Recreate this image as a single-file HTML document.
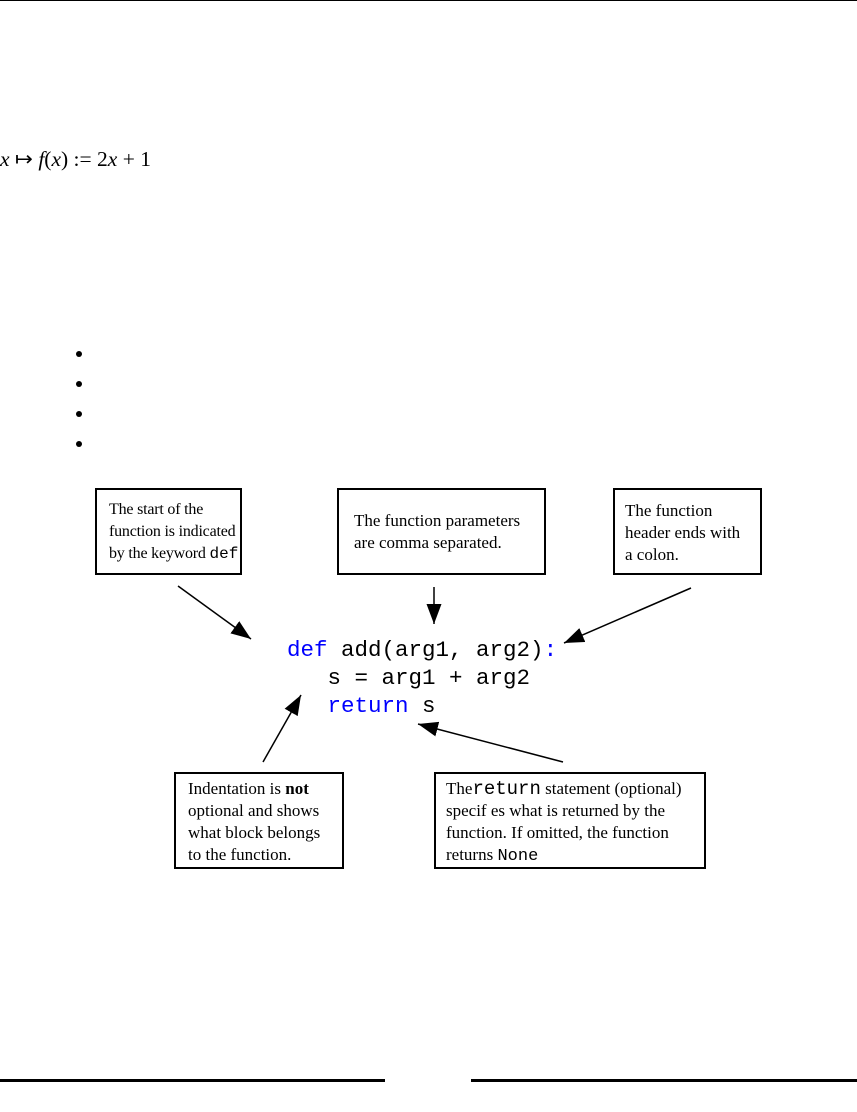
<!DOCTYPE html>
<html><head><style>
body{margin:0;width:857px;height:1112px;background:#fff;position:relative;overflow:hidden;font-family:"Liberation Serif",serif;}
.a{position:absolute;}
.box{position:absolute;border:2px solid #000;box-sizing:border-box;font-size:17px;line-height:22px;padding:8px 12px;white-space:nowrap;}
.m{font-family:"Liberation Mono",monospace;}
.code{position:absolute;font-family:"Liberation Mono",monospace;font-size:22.5px;line-height:28px;white-space:pre;}
.b{color:#00f;}
</style></head><body>
<div class="a" style="left:0;top:0;width:857px;height:1px;background:#000"></div>
<div class="a" style="left:0;top:147px;font-size:21.5px;font-style:italic;white-space:pre">x <span style="font-style:normal">↦</span> f<span style="font-style:normal">(</span>x<span style="font-style:normal">) := 2</span>x<span style="font-style:normal"> + 1</span></div>
<svg class="a" style="left:0;top:0" width="857" height="1112">
<g fill="#000"><circle cx="79" cy="354" r="3"/><circle cx="79" cy="384" r="3"/><circle cx="79" cy="414" r="3"/><circle cx="79" cy="444" r="3"/></g>
<defs>
<marker id="ar2" viewBox="0 0 10 10" refX="10" refY="5" markerWidth="20" markerHeight="15" markerUnits="userSpaceOnUse" orient="auto" preserveAspectRatio="none"><path d="M0,0L10,5L0,10z"/></marker></defs>
<g stroke="#000" stroke-width="1.5" marker-end="url(#ar2)">
<line x1="178" y1="586" x2="251" y2="639"/>
<line x1="434" y1="587" x2="434" y2="624"/>
<line x1="691" y1="588" x2="564" y2="643"/>
<line x1="263" y1="762" x2="301" y2="695"/>
<line x1="563" y1="762" x2="418" y2="724"/>
</g>
<rect x="0" y="1079" width="385" height="3"/>
<rect x="471" y="1079" width="386" height="3"/>
</svg>
<div class="box" style="left:95px;top:488px;width:147px;height:87px;padding-top:9px;font-size:16px;letter-spacing:-0.2px">The start of the<br>function is indicated<br>by the keyword <span class="m" style="letter-spacing:0">def</span></div>
<div class="box" style="left:337px;top:488px;width:209px;height:87px;padding-top:20px;padding-left:15px">The function parameters<br>are comma separated.</div>
<div class="box" style="left:613px;top:488px;width:149px;height:87px;padding-top:10px;padding-left:10px">The function<br>header ends with<br>a colon.</div>
<div class="box" style="left:174px;top:772px;width:170px;height:97px;padding-top:4px">Indentation is <b>not</b><br>optional and shows<br>what block belongs<br>to the function.</div>
<div class="box" style="left:434px;top:772px;width:272px;height:97px;padding-top:4px;padding-left:10px">The<span class="m" style="font-size:19px">return</span> statement (optional)<br>specif es what is returned by the<br>function. If omitted, the function<br>returns <span class="m">None</span></div>
<div class="code" style="left:287px;top:636px"><span class="b">def</span> add(arg1, arg2)<span class="b">:</span>
   s = arg1 + arg2
   <span class="b">return</span> s</div>
</body></html>
